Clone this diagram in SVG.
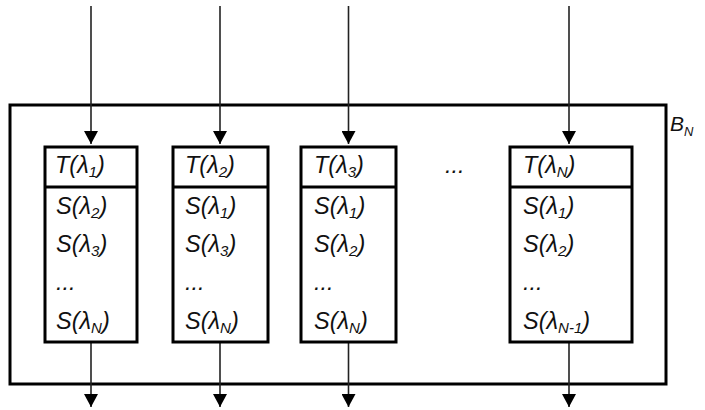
<svg xmlns="http://www.w3.org/2000/svg" width="705" height="410" viewBox="0 0 705 410">
<style>
.frame{fill:none;stroke:#000;stroke-width:3}
.box{fill:#fff;stroke:#000;stroke-width:3}
.div{stroke:#000;stroke-width:3}
.conn{stroke:#222;stroke-width:1.6;fill:none;marker-end:url(#ah)}
text{font-family:"Liberation Sans",Arial,sans-serif;font-style:italic;font-size:23.5px;fill:#111}
.sub{font-size:15px}
</style>
<defs>
<marker id="ah" markerUnits="userSpaceOnUse" markerWidth="14" markerHeight="14" refX="13" refY="7" orient="auto">
<path d="M0,0 L13,7 L0,14 Z" fill="#000"/>
</marker>
</defs>
<rect id="outer" class="frame" x="10" y="105" width="656" height="279"/>
<text id="label-bn" x="670" y="131" style="font-size:21px">B<tspan class="sub" dy="5" style="font-size:13px">N</tspan></text>
<g id="connectors">
<line class="conn" x1="91" y1="6" x2="91" y2="144"/>
<line class="conn" x1="220" y1="6" x2="220" y2="144"/>
<line class="conn" x1="348.5" y1="6" x2="348.5" y2="144"/>
<line class="conn" x1="569" y1="6" x2="569" y2="144"/>
<line class="conn" x1="91" y1="343" x2="91" y2="407"/>
<line class="conn" x1="220" y1="343" x2="220" y2="407"/>
<line class="conn" x1="348.5" y1="343" x2="348.5" y2="407"/>
<line class="conn" x1="569" y1="343" x2="569" y2="407"/>
</g>
<g id="node1">
<rect class="box" x="45" y="147" width="92" height="195"/>
<line class="div" x1="45" y1="187" x2="137" y2="187"/>
<text x="55" y="173">T(λ<tspan class="sub" dy="4">1</tspan><tspan dy="-4">)</tspan></text>
<text x="56" y="214">S(λ<tspan class="sub" dy="4">2</tspan><tspan dy="-4">)</tspan></text>
<text x="56" y="252">S(λ<tspan class="sub" dy="4">3</tspan><tspan dy="-4">)</tspan></text>
<text x="56" y="290">...</text>
<text x="56" y="329">S(λ<tspan class="sub" dy="4">N</tspan><tspan dy="-4">)</tspan></text>
</g>
<g id="node2">
<rect class="box" x="173" y="147" width="95" height="195"/>
<line class="div" x1="173" y1="187" x2="268" y2="187"/>
<text x="185" y="173">T(λ<tspan class="sub" dy="4">2</tspan><tspan dy="-4">)</tspan></text>
<text x="185" y="214">S(λ<tspan class="sub" dy="4">1</tspan><tspan dy="-4">)</tspan></text>
<text x="185" y="252">S(λ<tspan class="sub" dy="4">3</tspan><tspan dy="-4">)</tspan></text>
<text x="185" y="290">...</text>
<text x="185" y="329">S(λ<tspan class="sub" dy="4">N</tspan><tspan dy="-4">)</tspan></text>
</g>
<g id="node3">
<rect class="box" x="301" y="147" width="95" height="195"/>
<line class="div" x1="301" y1="187" x2="396" y2="187"/>
<text x="314" y="173">T(λ<tspan class="sub" dy="4">3</tspan><tspan dy="-4">)</tspan></text>
<text x="314" y="214">S(λ<tspan class="sub" dy="4">1</tspan><tspan dy="-4">)</tspan></text>
<text x="314" y="252">S(λ<tspan class="sub" dy="4">2</tspan><tspan dy="-4">)</tspan></text>
<text x="314" y="290">...</text>
<text x="314" y="329">S(λ<tspan class="sub" dy="4">N</tspan><tspan dy="-4">)</tspan></text>
</g>
<text id="gap-dots" x="445" y="173">...</text>
<g id="node4">
<rect class="box" x="510" y="147" width="122" height="195"/>
<line class="div" x1="510" y1="187" x2="632" y2="187"/>
<text x="523" y="173">T(λ<tspan class="sub" dy="4">N</tspan><tspan dy="-4">)</tspan></text>
<text x="523" y="214">S(λ<tspan class="sub" dy="4">1</tspan><tspan dy="-4">)</tspan></text>
<text x="523" y="252">S(λ<tspan class="sub" dy="4">2</tspan><tspan dy="-4">)</tspan></text>
<text x="523" y="290">...</text>
<text x="523" y="329">S(λ<tspan class="sub" dy="4">N-1</tspan><tspan dy="-4">)</tspan></text>
</g>
</svg>
